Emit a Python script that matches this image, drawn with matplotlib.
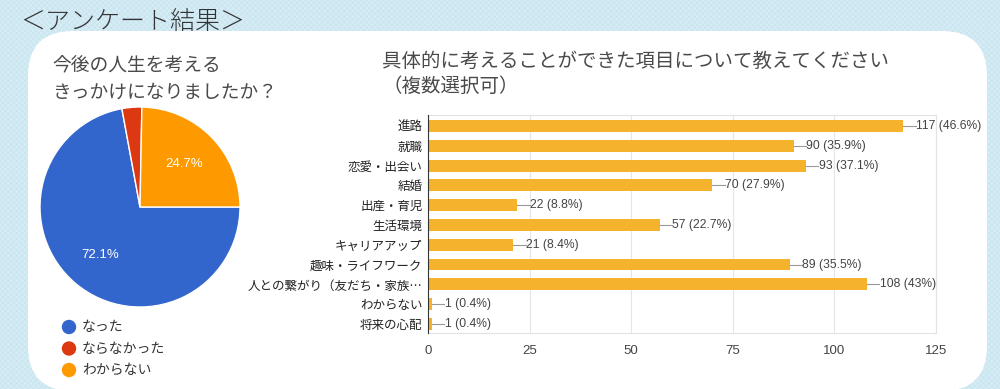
import matplotlib
matplotlib.use('Agg')
import matplotlib.pyplot as plt
from matplotlib.patches import FancyBboxPatch, Circle

plt.rcParams['font.family'] = ['Noto Sans CJK JP', 'DejaVu Sans']
plt.rcParams['hatch.linewidth'] = 0.4

# pie data
pie_labels = ['なった', 'ならなかった', 'わからない']
pie_values = [72.1, 3.2, 24.7]
pie_colors = ['#3366cc', '#dc3912', '#ff9900']

# bar data
bar_labels = ['進路', '就職', '恋愛・出会い', '結婚', '出産・育児', '生活環境',
              'キャリアアップ', '趣味・ライフワーク', '人との繋がり（友だち・家族…',
              'わからない', '将来の心配']
bar_counts = [117, 90, 93, 70, 22, 57, 21, 89, 108, 1, 1]
bar_pcts = ['46.6%', '35.9%', '37.1%', '27.9%', '8.8%', '22.7%', '8.4%',
            '35.5%', '43%', '0.4%', '0.4%']
x_ticks = [0, 25, 50, 75, 100, 125]

W, H = 1000, 389
fig = plt.figure(figsize=(W / 100, H / 100), dpi=100)

# background in pixel coordinates
bg = fig.add_axes([0, 0, 1, 1])
bg.set_xlim(0, W)
bg.set_ylim(H, 0)
bg.axis('off')
bg.add_patch(plt.Rectangle((0, 0), W, H, fc='#d5ecf5', ec='#c4e2ee',
                           hatch='xxxxxx', lw=0, zorder=0))
bg.add_patch(FancyBboxPatch((28, 31), 987 - 28, 391 - 31,
                            boxstyle='round,pad=0,rounding_size=45',
                            fc='white', ec='none', zorder=1))
bg.text(20, 22, '＜アンケート結果＞', fontsize=18, color='#333333',
        fontweight='light', va='center', ha='left', zorder=2)
bg.text(52, 79, '今後の人生を考える\nきっかけになりましたか？', fontsize=13.5,
        color='#4a4a4a', va='center', ha='left', linespacing=1.3, zorder=2)
bg.text(382, 74, '具体的に考えることができた項目について教えてください\n（複数選択可）',
        fontsize=14, color='#4a4a4a', va='center', ha='left',
        linespacing=1.3, zorder=2)

# legend for pie
for i, (lab, col) in enumerate(zip(pie_labels, pie_colors)):
    y = 327 + i * 21.5
    bg.add_patch(Circle((69, y), 6.5, color=col, zorder=2))
    bg.text(82, y, lab, fontsize=10, color='#333333', va='center', ha='left', zorder=2)

# pie
axp = fig.add_axes([40 / W, (H - 307) / H, 200 / W, 200 / H])
wedges, _, autotexts = axp.pie(pie_values, colors=pie_colors, startangle=0,
                               counterclock=False, autopct='%1.1f%%',
                               pctdistance=0.62,
                               wedgeprops=dict(edgecolor='white', linewidth=1))
for t in autotexts:
    t.set_color('white')
    t.set_fontsize(9.5)
    t.set_family(['Liberation Sans', 'DejaVu Sans'])
autotexts[1].set_visible(False)
axp.set_xlim(-1, 1)
axp.set_ylim(-1, 1)
axp.set_aspect('equal')

# bar chart
axb = fig.add_axes([428 / W, (H - 333) / H, 508 / W, 218 / H])
ypos = list(range(len(bar_labels)))
axb.barh(ypos, bar_counts, height=0.6, color='#f5b22c', zorder=3)
for y, v, p in zip(ypos, bar_counts, bar_pcts):
    axb.plot([v, v + 3], [y, y], color='#999999', linewidth=0.8, zorder=3)
    axb.text(v + 3.1, y, f'{v} ({p})', fontsize=8.7, color='#444444',
             va='center', ha='left', family=['Liberation Sans', 'DejaVu Sans'],
             zorder=4)
axb.set_xlim(0, 125)
axb.set_ylim(10.46, -0.56)
axb.set_xticks(x_ticks)
axb.set_xticklabels([str(t) for t in x_ticks], family=['Liberation Sans', 'DejaVu Sans'])
axb.set_yticks(ypos)
axb.set_yticklabels(bar_labels)
axb.tick_params(axis='x', length=0, labelsize=9.5, labelcolor='#444444', pad=9)
axb.tick_params(axis='y', length=0, labelsize=9, labelcolor='#222222', pad=4)
axb.grid(axis='x', color='#e6e6e6', linewidth=0.8, zorder=0)
for s in ['top', 'right', 'bottom']:
    axb.spines[s].set_color('#e3e3e3')
axb.spines['left'].set_color('#333333')
axb.spines['left'].set_zorder(5)

fig.savefig('out.png', dpi=100)
